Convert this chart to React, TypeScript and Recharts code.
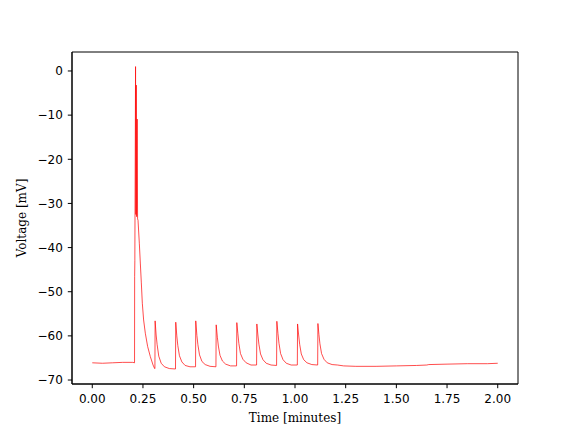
import { LineChart, Line, XAxis, YAxis, ReferenceArea, Label } from 'recharts'

type Pt = [number, number] // [time in minutes, voltage in mV]

const restBefore: Pt[] = [
  [0.0, -66.1], [0.05, -66.2], [0.1, -66.1], [0.15, -66.0], [0.2, -66.0], [0.2085, -66.1],
]

const burst: Pt[] = [
  [0.209, -46.5], [0.21, -43.0], [0.2135, 1.0], [0.215, -32.5], [0.217, -3.2],
  [0.219, -33.0], [0.2215, -10.9], [0.2235, -33.5],
]

const burstDecay: Pt[] = [
  [0.2257, -33.8], [0.2321, -39.0], [0.237, -43.5], [0.242, -48.0], [0.2469, -52.6],
  [0.2533, -56.4], [0.2617, -59.4], [0.2731, -62.4], [0.2864, -64.7], [0.2998, -66.6],
  [0.3077, -67.4],
]

const pulse1: Pt[] = [
  [0.309, -67.4], [0.31, -56.6], [0.315, -59.8], [0.32, -62.0], [0.328, -64.6],
  [0.34, -66.2], [0.356, -67.0], [0.38, -67.4], [0.4105, -67.5],
]
const pulse2: Pt[] = [
  [0.4118, -56.9], [0.417, -60.0], [0.422, -62.2], [0.43, -64.5], [0.442, -65.9],
  [0.458, -66.7], [0.482, -67.0], [0.5095, -67.0],
]
const pulse3: Pt[] = [
  [0.5105, -56.6], [0.516, -59.9], [0.521, -62.0], [0.529, -64.3], [0.541, -65.8],
  [0.557, -66.5], [0.581, -66.9], [0.61, -67.0],
]
const pulse4: Pt[] = [
  [0.6113, -57.5], [0.617, -60.3], [0.622, -62.3], [0.63, -64.4], [0.642, -65.7],
  [0.658, -66.4], [0.682, -66.8], [0.7118, -66.8],
]
const pulse5: Pt[] = [
  [0.713, -57.0], [0.718, -59.4], [0.723, -61.7], [0.731, -64.0], [0.743, -65.3],
  [0.759, -66.1], [0.783, -66.6], [0.8105, -66.6],
]
const pulse6: Pt[] = [
  [0.8118, -57.3], [0.817, -59.8], [0.822, -61.9], [0.83, -64.1], [0.842, -65.4],
  [0.858, -66.2], [0.882, -66.6], [0.9092, -66.7],
]
const pulse7: Pt[] = [
  [0.9105, -56.7], [0.916, -59.5], [0.921, -61.7], [0.929, -64.0], [0.941, -65.4],
  [0.957, -66.2], [0.981, -66.6], [1.0115, -66.6],
]
const pulse8: Pt[] = [
  [1.0127, -57.3], [1.018, -59.8], [1.023, -61.9], [1.031, -64.1], [1.043, -65.4],
  [1.059, -66.1], [1.083, -66.5], [1.1118, -66.6],
]
const pulse9: Pt[] = [
  [1.113, -57.2], [1.118, -59.7], [1.123, -61.8], [1.131, -64.0], [1.143, -65.3],
  [1.159, -66.1], [1.183, -66.5], [1.21, -66.6],
]

const restAfter: Pt[] = [
  [1.24, -66.8], [1.3, -66.9], [1.4, -66.9], [1.5, -66.8], [1.6, -66.7], [1.65, -66.6],
  [1.66, -66.5], [1.75, -66.4], [1.85, -66.3], [1.95, -66.3], [2.0, -66.2],
]

const xTicks = [0, 0.25, 0.5, 0.75, 1, 1.25, 1.5, 1.75, 2]
const yTicks = [-70, -60, -50, -40, -30, -20, -10, 0]

const data = [
  ...restBefore, ...burst, ...burstDecay,
  ...pulse1, ...pulse2, ...pulse3, ...pulse4, ...pulse5, ...pulse6, ...pulse7, ...pulse8, ...pulse9,
  ...restAfter,
].map(([t, v]) => ({ t, v }))

const X_DOMAIN: [number, number] = [-0.1, 2.1]
const Y_DOMAIN: [number, number] = [-70.9, 4.3]

const tickFont = { fontFamily: 'DejaVu Sans', fontSize: 12, fill: '#000' }
const labelFont = 'DejaVu Serif'

export default function App() {
  return (
    <div style={{ position: 'absolute', left: 0, top: 0, width: 576, height: 432, background: '#fff' }}>
      <LineChart width={576} height={432} data={data} margin={{ top: 52, right: 58, bottom: 0, left: 0 }}>
        <XAxis
          dataKey="t"
          type="number"
          domain={X_DOMAIN}
          allowDataOverflow
          ticks={xTicks}
          tickFormatter={(v: number) => v.toFixed(2)}
          height={48}
          tick={tickFont}
          tickSize={4.2}
          tickMargin={6}
          axisLine={{ stroke: '#000', strokeWidth: 1 }}
          tickLine={{ stroke: '#000', strokeWidth: 1 }}
        >
          <Label
            content={() => (
              <text x={295} y={422} textAnchor="middle" fontFamily={labelFont} fontSize={12} fill="#000">
                Time [minutes]
              </text>
            )}
          />
        </XAxis>
        <YAxis
          type="number"
          domain={Y_DOMAIN}
          allowDataOverflow
          ticks={yTicks}
          tickFormatter={(v: number) => String(v).replace('-', '\u2212')}
          width={72}
          tick={tickFont}
          tickSize={4.2}
          tickMargin={5}
          axisLine={{ stroke: '#000', strokeWidth: 1 }}
          tickLine={{ stroke: '#000', strokeWidth: 1 }}
        >
          <Label
            content={() => (
              <text
                x={26}
                y={218}
                transform="rotate(-90 26 218)"
                textAnchor="middle"
                fontFamily={labelFont}
                fontSize={12}
                fill="#000"
              >
                Voltage [mV]
              </text>
            )}
          />
        </YAxis>
        <Line
          type="linear"
          dataKey="v"
          stroke="#ff0000"
          strokeWidth={0.7}
          dot={false}
          activeDot={false}
          isAnimationActive={false}
        />
        <ReferenceArea
          x1={X_DOMAIN[0]}
          x2={X_DOMAIN[1]}
          y1={Y_DOMAIN[0]}
          y2={Y_DOMAIN[1]}
          fill="none"
          stroke="#000"
          strokeWidth={1}
          ifOverflow="visible"
        />
      </LineChart>
    </div>
  )
}
